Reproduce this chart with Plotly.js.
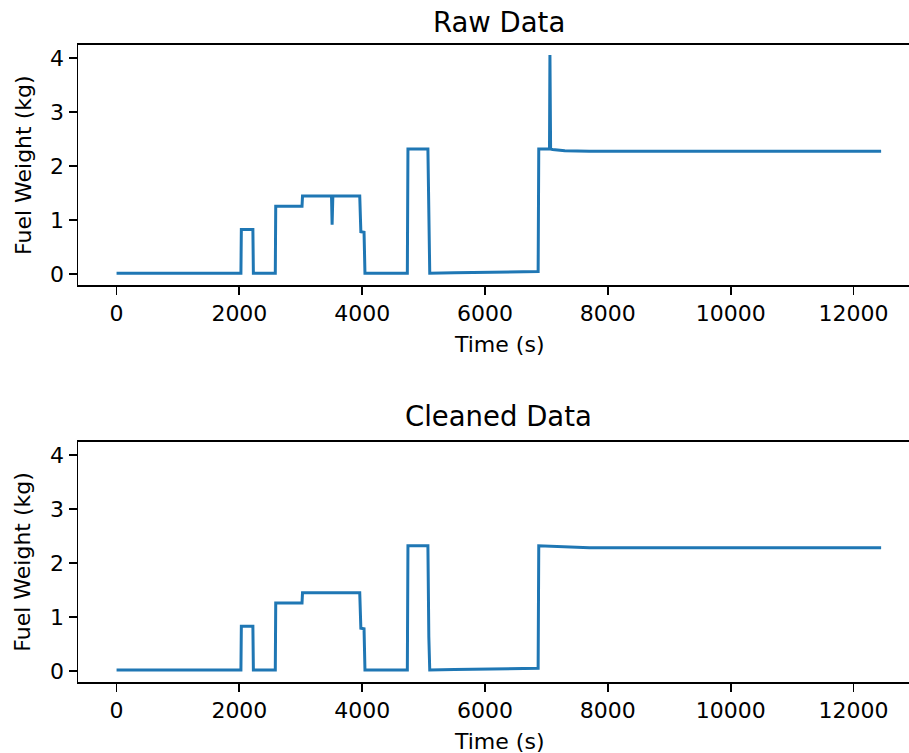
<!DOCTYPE html>
<html><head><meta charset="utf-8">
<script src="https://cdn.plot.ly/plotly-3.0.1.min.js"></script>
<style>html,body{margin:0;padding:0;overflow:hidden;background:#fff}</style>
</head><body><div id="chart" style="width:909px;height:753px"></div>
<script>
// Raw fuel weight series (time in s, weight in kg)
const rawTime = [0, 2025, 2032, 2220, 2228, 2585, 2592, 3020, 3028, 3500, 3510, 3522, 3960, 3978, 4030, 4045, 4735, 4745, 5070, 5085, 5100, 5500, 6000, 6500, 6865, 6875, 7050, 7057, 7068, 7100, 7300, 7700, 12450];
const rawWeight = [0.02, 0.02, 0.83, 0.83, 0.02, 0.02, 1.26, 1.26, 1.45, 1.45, 0.92, 1.45, 1.45, 0.79, 0.78, 0.02, 0.02, 2.32, 2.32, 0.63, 0.02, 0.03, 0.04, 0.04, 0.05, 2.32, 2.32, 4.06, 2.32, 2.31, 2.29, 2.28, 2.28];
// Cleaned series (dip and spike removed)
const cleanTime = [0, 2025, 2032, 2220, 2228, 2585, 2592, 3020, 3028, 3960, 3978, 4030, 4045, 4735, 4745, 5070, 5085, 5100, 5500, 6000, 6500, 6865, 6875, 7100, 7300, 7700, 12450];
const cleanWeight = [0.02, 0.02, 0.83, 0.83, 0.02, 0.02, 1.26, 1.26, 1.45, 1.45, 0.79, 0.78, 0.02, 0.02, 2.32, 2.32, 0.63, 0.02, 0.03, 0.04, 0.04, 0.05, 2.32, 2.31, 2.29, 2.28, 2.28];
const xTicks = [0, 2000, 4000, 6000, 8000, 10000, 12000];
const yTicks = [0, 1, 2, 3, 4];
const titles = ["Raw Data", "Cleaned Data"];
const xLabel = "Time (s)";
const yLabel = "Fuel Weight (kg)";

const W = 909, H = 753;
const FONT = "DejaVu Sans";
const px = v => v / W;
const py = v => (H - v) / H;

const lineStyle = {color: '#1f77b4', width: 3};
const traces = [
  {x: rawTime, y: rawWeight, type: 'scatter', mode: 'lines', line: lineStyle, xaxis: 'x', yaxis: 'y', hoverinfo: 'skip'},
  {x: cleanTime, y: cleanWeight, type: 'scatter', mode: 'lines', line: lineStyle, xaxis: 'x2', yaxis: 'y2', hoverinfo: 'skip'}
];

function xax(anchor) {
  return {
    domain: [px(78.3), 1], range: [-623, 12904], anchor: anchor,
    tickvals: xTicks, ticktext: xTicks.map(String),
    ticks: 'outside', ticklen: 8, tickwidth: 1.8, tickcolor: '#000',
    showline: true, linecolor: '#000', linewidth: 1.8, mirror: true,
    showgrid: false, zeroline: false,
    tickfont: {family: FONT, size: 22, color: '#000'}
  };
}
function yax(anchor, dom) {
  return {
    domain: dom, range: [-0.198, 4.246], anchor: anchor,
    tickvals: yTicks, ticktext: yTicks.map(String),
    ticks: 'outside', ticklen: 8, tickwidth: 1.8, tickcolor: '#000',
    showline: true, linecolor: '#000', linewidth: 1.8, mirror: false,
    showgrid: false, zeroline: false,
    tickfont: {family: FONT, size: 22, color: '#000'}
  };
}

const ann = (text, x, y, size, angle) => ({
  text: text, xref: 'paper', yref: 'paper', x: x, y: y,
  xanchor: 'center', yanchor: 'middle', showarrow: false, textangle: angle || 0,
  font: {family: FONT, size: size, color: '#000'}
});

const layout = {
  width: W, height: H,
  margin: {l: 0, r: 0, t: 0, b: 0},
  paper_bgcolor: '#fff', plot_bgcolor: '#fff',
  showlegend: false,
  xaxis: xax('y'),
  yaxis: yax('x', [py(285), py(45)]),
  xaxis2: xax('y2'),
  yaxis2: yax('x2', [py(681.7), py(441.7)]),
  annotations: [
    ann(titles[0], px(498.7), py(22), 27.5),
    ann(titles[1], px(498.7), py(416), 27.5),
    ann(xLabel, px(499), py(344), 22),
    ann(xLabel, px(499), py(741), 22),
    ann(yLabel, px(23), py(165), 22, -90),
    ann(yLabel, px(23), py(561.7), 22, -90)
  ]
};

Plotly.newPlot('chart', traces, layout, {staticPlot: true, displayModeBar: false});
</script>
</body></html>
